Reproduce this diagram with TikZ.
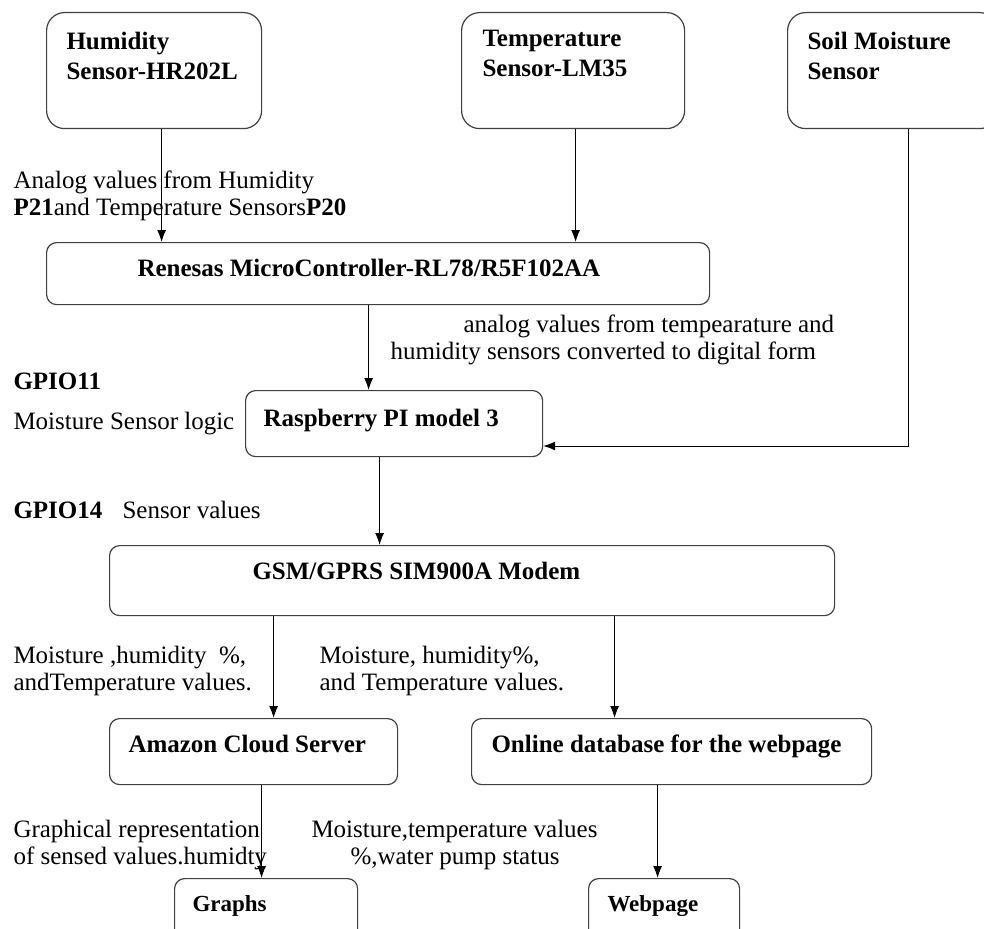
\documentclass[tikz,border=0pt]{standalone}
\usepackage{fontspec}
\setmainfont{Liberation Serif}
\usetikzlibrary{arrows.meta}

\begin{document}
\begin{tikzpicture}[x = 1pt, y = -1pt,
	>={Latex[length=12pt, width=9pt]},
	line width = 1pt,
	every node/.style = {font = \fontsize{25}{27}\selectfont},
	box/.style = {draw = black!75,
				  line width = 1.2pt,
				  shape = rectangle,
				  rounded corners = 10pt,
				  anchor = north west,
				  inner sep = 0pt},
	boxtext/.style = {anchor = base west,
					  inner sep = 0pt,
					  align = left,
					  font = \fontsize{25}{30}\selectfont\bfseries},
	note/.style = {anchor = base west,
				   inner sep = 0pt,
				   align = left}]
	\useasboundingbox (0, 0) rectangle (984, 928);

	% boxes
	\draw (46, 12) node[box, rounded corners = 18pt,
					   minimum width = 215pt,
					   minimum height = 116pt
				](hum){};
	\draw (461, 12) node[box, rounded corners = 18pt,
						minimum width = 223pt,
						minimum height = 116pt
				](temp){};
	\draw (787, 12) node[box, rounded corners = 18pt,
						minimum width = 210pt,
						minimum height = 116pt
				](soil){};
	\draw (46, 242) node[box,
						minimum width = 663pt,
						minimum height = 62pt
				](micro){};
	\draw (245, 390) node[box,
						 minimum width = 297pt,
						 minimum height = 66pt
				](rasp){};
	\draw (109, 545) node[box,
						 minimum width = 725pt,
						 minimum height = 70pt
				](gsm){};
	\draw (109, 718) node[box,
						 minimum width = 288pt,
						 minimum height = 66pt
				](amazon){};
	\draw (471, 718) node[box,
						 minimum width = 400pt,
						 minimum height = 66pt
				](online){};
	\draw (174, 878) node[box,
						 minimum width = 183pt,
						 minimum height = 70pt
				](graphs){};
	\draw (588, 878) node[box,
						 minimum width = 151pt,
						 minimum height = 70pt
				](webpage){};

	% box texts (base = last line)
	\draw (66, 80) node[boxtext](humtxt){Humidity\\Sensor-HR202L};
	\draw (482, 77) node[boxtext](temptxt){Temperature\\Sensor-LM35};
	\draw (807, 80) node[boxtext](soiltxt){Soil Moisture\\Sensor};
	\draw (137, 276) node[boxtext](microtxt){Renesas MicroController-RL78/R5F102AA};
	\draw (263, 426) node[boxtext](rasptxt){Raspberry PI model 3};
	\draw (252, 579) node[boxtext](gsmtxt){GSM/GPRS SIM900A Modem};
	\draw (128, 752) node[boxtext](amazontxt){Amazon Cloud Server};
	\draw (491, 752) node[boxtext](onlinetxt){Online database for the webpage};
	\draw (192, 911) node[boxtext, font = \fontsize{23}{27}\selectfont\bfseries](graphstxt){Graphs};
	\draw (607, 911) node[boxtext, font = \fontsize{23}{27}\selectfont\bfseries](webpagetxt){Webpage};

	% connector labels
	\draw (13, 215) node[note](analog){Analog values from Humidity\\
		\textbf{P21}and Temperature Sensors\textbf{P20}};
	\draw (390, 359) node[note](digital){\hspace*{73pt}analog values from tempearature and\\
		humidity sensors converted to digital form};
	\draw (13, 389) node[note, font = \fontsize{25}{27}\selectfont\bfseries](gpioa){GPIO11};
	\draw (13, 429) node[note](logic){Moisture Sensor logic};
	\draw (13, 518) node[note, font = \fontsize{25}{27}\selectfont\bfseries](gpiob){GPIO14};
	\draw (122, 518) node[note](sensval){Sensor values};
	\draw (13, 690) node[note](valsa){Moisture ,humidity\ \ \%,\\andTemperature values.};
	\draw (319, 690) node[note](valsb){Moisture, humidity\%,\\and Temperature values.};
	\draw (13, 864) node[note](graphical){Graphical representation\\of sensed values.humidty};
	\draw (311, 864) node[note](pump){Moisture,temperature values\\
		\hspace*{39pt}\%,water pump status};

	% connectors
	\coordinate (bend) at (908, 446);

	\draw[->] ([xshift = 7.5pt]hum.south) -- ([xshift = 7.5pt]hum.south |- micro.north);
	\draw[->] ([xshift = 2.5pt]temp.south) -- ([xshift = 2.5pt]temp.south |- micro.north);

	\draw[->] ([xshift = -9.5pt]micro.south) -- ([xshift = -9.5pt]micro.south |- rasp.north);
	\draw[->] (soil.south -| bend) -- (bend) -- (bend -| rasp.east);

	\draw[->] ([xshift = -14.5pt]rasp.south) -- ([xshift = -14.5pt]rasp.south |- gsm.north);

	\draw[->] ([xshift = 20pt]amazon.north |- gsm.south) -- ([xshift = 20pt]amazon.north);
	\draw[->] ([xshift = -57pt]online.north |- gsm.south) -- ([xshift = -57pt]online.north);

	\draw[->] ([xshift = -4.5pt]graphs.north |- amazon.south) -- ([xshift = -4.5pt]graphs.north);
	\draw[->] ([xshift = -6.5pt]webpage.north |- online.south) -- ([xshift = -6.5pt]webpage.north);
\end{tikzpicture}
\end{document}
